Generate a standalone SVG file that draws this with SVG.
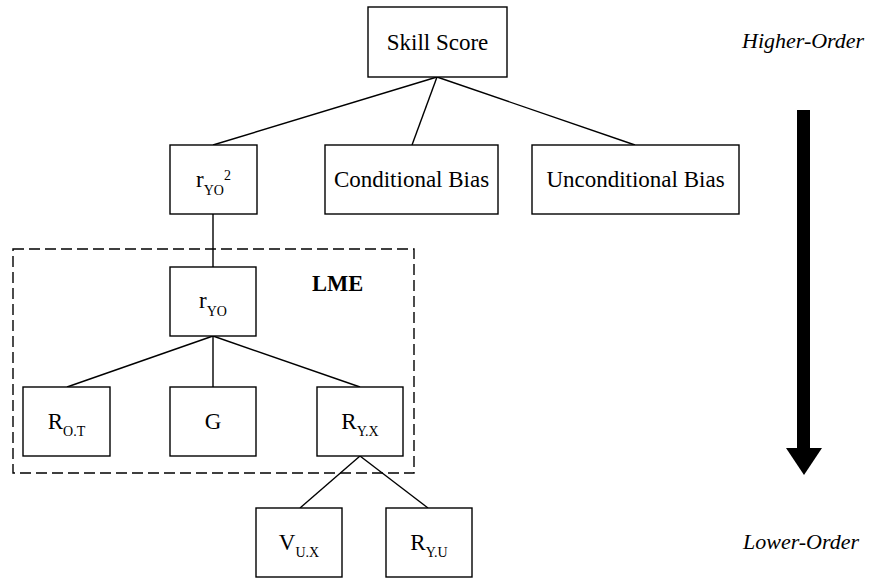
<svg xmlns="http://www.w3.org/2000/svg" width="870" height="578" viewBox="0 0 870 578" font-family="'Liberation Serif', 'DejaVu Serif', serif">
<style>
text{font-family:'Liberation Serif','DejaVu Serif',serif;font-size:23px;fill:#000}
.box{fill:#fff;stroke:#000;stroke-width:1.4}
.sub{font-size:14px}
.lbl{text-anchor:middle}
.it{font-style:italic;font-size:22px}
#connectors line{stroke:#000;stroke-width:1.4}
</style>
<rect width="870" height="578" fill="#fff"/>
<g id="lme-frame">
<rect x="13" y="249" width="401" height="224" fill="none" stroke="#000" stroke-width="1.4" stroke-dasharray="11 5"/>
<text x="312" y="291" style="font-weight:bold;font-size:22.5px">LME</text>
</g>
<g id="connectors">
<line x1="437" y1="77" x2="213" y2="145"/>
<line x1="437" y1="77" x2="412" y2="145"/>
<line x1="437" y1="77" x2="635" y2="145"/>
<line x1="213" y1="214" x2="213" y2="267"/>
<line x1="213" y1="336" x2="67" y2="387"/>
<line x1="213" y1="336" x2="213" y2="387"/>
<line x1="213" y1="336" x2="360" y2="387"/>
<line x1="360" y1="456" x2="300" y2="508"/>
<line x1="360" y1="456" x2="428" y2="508"/>
</g>
<g id="skill-score">
<rect class="box" x="368" y="7" width="139" height="70"/>
<text class="lbl" x="437.5" y="49.5">Skill Score</text>
</g>
<g id="r-yo-sq">
<rect class="box" x="170" y="145" width="87" height="69"/>
<text class="lbl" x="213.5" y="187">r<tspan class="sub" dy="7.5">YO</tspan><tspan class="sub" dy="-15">2</tspan></text>
</g>
<g id="conditional-bias">
<rect class="box" x="325" y="145" width="173" height="69"/>
<text class="lbl" x="411.5" y="187">Conditional Bias</text>
</g>
<g id="unconditional-bias">
<rect class="box" x="532" y="145" width="207" height="69"/>
<text class="lbl" x="635.5" y="187">Unconditional Bias</text>
</g>
<g id="r-yo">
<rect class="box" x="170" y="267" width="86" height="69"/>
<text class="lbl" x="213" y="308">r<tspan class="sub" dy="7.5">YO</tspan></text>
</g>
<g id="r-ot">
<rect class="box" x="23" y="387" width="87" height="69"/>
<text class="lbl" x="66.5" y="429">R<tspan class="sub" dy="7">O.T</tspan></text>
</g>
<g id="g">
<rect class="box" x="170" y="387" width="86" height="69"/>
<text class="lbl" x="213" y="429">G</text>
</g>
<g id="r-yx">
<rect class="box" x="317" y="387" width="86" height="69"/>
<text class="lbl" x="360" y="429">R<tspan class="sub" dy="7">Y.X</tspan></text>
</g>
<g id="v-ux">
<rect class="box" x="256" y="508" width="86" height="69"/>
<text class="lbl" x="299" y="550">V<tspan class="sub" dy="7">U.X</tspan></text>
</g>
<g id="r-yu">
<rect class="box" x="386" y="508" width="86" height="69"/>
<text class="lbl" x="429" y="550">R<tspan class="sub" dy="7">Y.U</tspan></text>
</g>
<g id="order-arrow">
<rect x="797" y="110" width="13" height="339" fill="#000"/>
<polygon points="786,448 822,448 804,475" fill="#000"/>
</g>
<text class="it" x="742" y="48">Higher-Order</text>
<text class="it" x="743" y="549">Lower-Order</text>
</svg>
